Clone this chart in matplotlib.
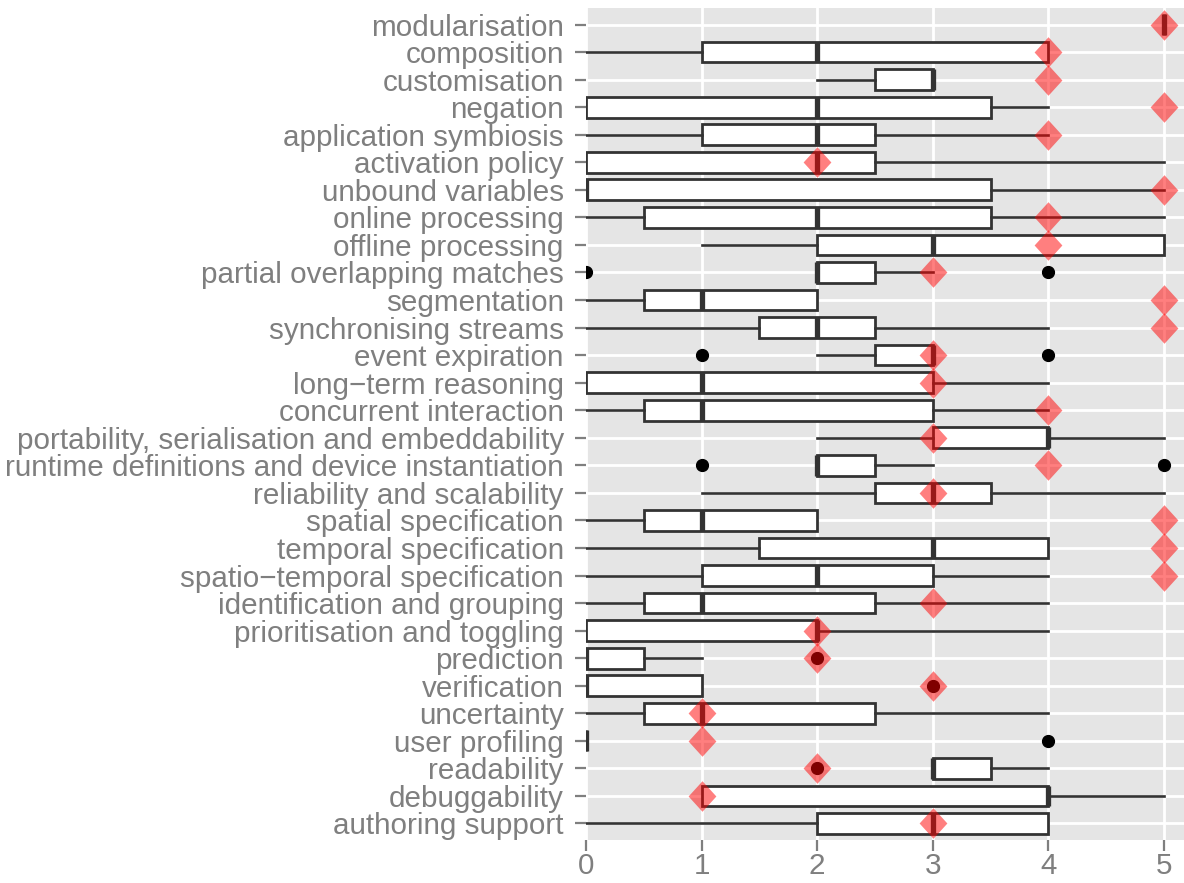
import matplotlib
matplotlib.use("Agg")
import matplotlib.pyplot as plt

# categories, top to bottom
categories = [
    "modularisation", "composition", "customisation", "negation",
    "application symbiosis", "activation policy", "unbound variables",
    "online processing", "offline processing", "partial overlapping matches",
    "segmentation", "synchronising streams", "event expiration",
    "long\u2212term reasoning", "concurrent interaction",
    "portability, serialisation and embeddability",
    "runtime definitions and device instantiation",
    "reliability and scalability", "spatial specification",
    "temporal specification", "spatio\u2212temporal specification",
    "identification and grouping", "prioritisation and toggling",
    "prediction", "verification", "uncertainty", "user profiling",
    "readability", "debuggability", "authoring support",
]

# box statistics
whislo = [5, 0, 2, 0, 0, 0, 0, 0, 1, 2, 0, 0, 2, 0, 0,
          2, 2, 1, 0, 0, 0, 0, 0, 0, 0, 0, 0, 3, 1, 0]
q1 = [5, 1, 2.5, 0, 1, 0, 0, 0.5, 2, 2, 0.5, 1.5, 2.5, 0, 0.5,
      3, 2, 2.5, 0.5, 1.5, 1, 0.5, 0, 0, 0, 0.5, 0, 3, 1, 2]
med = [5, 2, 3, 2, 2, 2, 0, 2, 3, 2, 1, 2, 3, 1, 1,
       4, 2, 3, 1, 3, 2, 1, 2, 0, 0, 1, 0, 3, 4, 3]
q3 = [5, 4, 3, 3.5, 2.5, 2.5, 3.5, 3.5, 5, 2.5, 2, 2.5, 3, 3, 3,
      4, 2.5, 3.5, 2, 4, 3, 2.5, 2, 0.5, 1, 2.5, 0, 3.5, 4, 4]
whishi = [5, 4, 3, 4, 4, 5, 5, 5, 5, 3, 2, 4, 3, 4, 4,
          5, 3, 5, 2, 4, 4, 4, 4, 1, 1, 4, 0, 4, 5, 4]
outliers = [[], [], [], [], [], [], [], [], [], [0, 4], [], [], [1, 4], [], [],
            [], [1, 5], [], [], [], [], [], [], [2], [3], [], [4], [2], [], []]

# red diamonds
expected = [5, 4, 4, 5, 4, 2, 5, 4, 4, 3, 5, 5, 3, 3, 4,
            3, 4, 3, 5, 5, 5, 3, 2, 2, 3, 1, 1, 2, 1, 3]

positions = list(range(1, len(categories) + 1))

stats = []
for i in range(len(categories)):
    stats.append({
        "label": categories[i], "whislo": whislo[i], "q1": q1[i],
        "med": med[i], "q3": q3[i], "whishi": whishi[i],
        "fliers": outliers[i],
    })

fig = plt.figure(figsize=(11.84, 8.83), dpi=100)
ax = fig.add_axes([586 / 1184, 1 - 840 / 883, 1 - 586 / 1184, (840 - 8) / 883])
ax.set_facecolor("#E5E5E5")

dark = "#333333"
ax.bxp(
    stats, positions=positions, orientation="horizontal", widths=0.75,
    showcaps=False, patch_artist=True,
    boxprops=dict(facecolor="white", edgecolor=dark, linewidth=2.0),
    whiskerprops=dict(color=dark, linewidth=1.9),
    medianprops=dict(color=dark, linewidth=3.8, solid_capstyle="butt"),
    flierprops=dict(marker="o", markerfacecolor="black", markeredgecolor="black",
                    markersize=8.5),
    zorder=3,
)

# diamonds on top
diamond = [(0, -1.1), (1, 0), (0, 1.1), (-1, 0), (0, -1.1)]
ax.plot(expected, positions, linestyle="none", marker=diamond, markersize=22,
        color="red", alpha=0.5, markeredgewidth=0, zorder=5)

ax.set_xlim(0, 5.173)
ax.set_ylim(30.6, 0.4)
ax.set_yticks(positions)
ax.set_yticklabels(categories)
ax.set_xticks([0, 1, 2, 3, 4, 5])

ax.grid(True, color="white", linewidth=2)
ax.set_axisbelow(True)
for s in ax.spines.values():
    s.set_visible(False)

ax.tick_params(axis="both", colors="#7F7F7F", labelcolor="#7F7F7F",
               length=8, width=1.6, labelsize=21.3)
ax.tick_params(axis="x", pad=0.5)
ax.tick_params(axis="y", pad=8)
for lab in ax.get_xticklabels() + ax.get_yticklabels():
    lab.set_fontfamily("Liberation Sans")

fig.savefig("out.png", dpi=100)
